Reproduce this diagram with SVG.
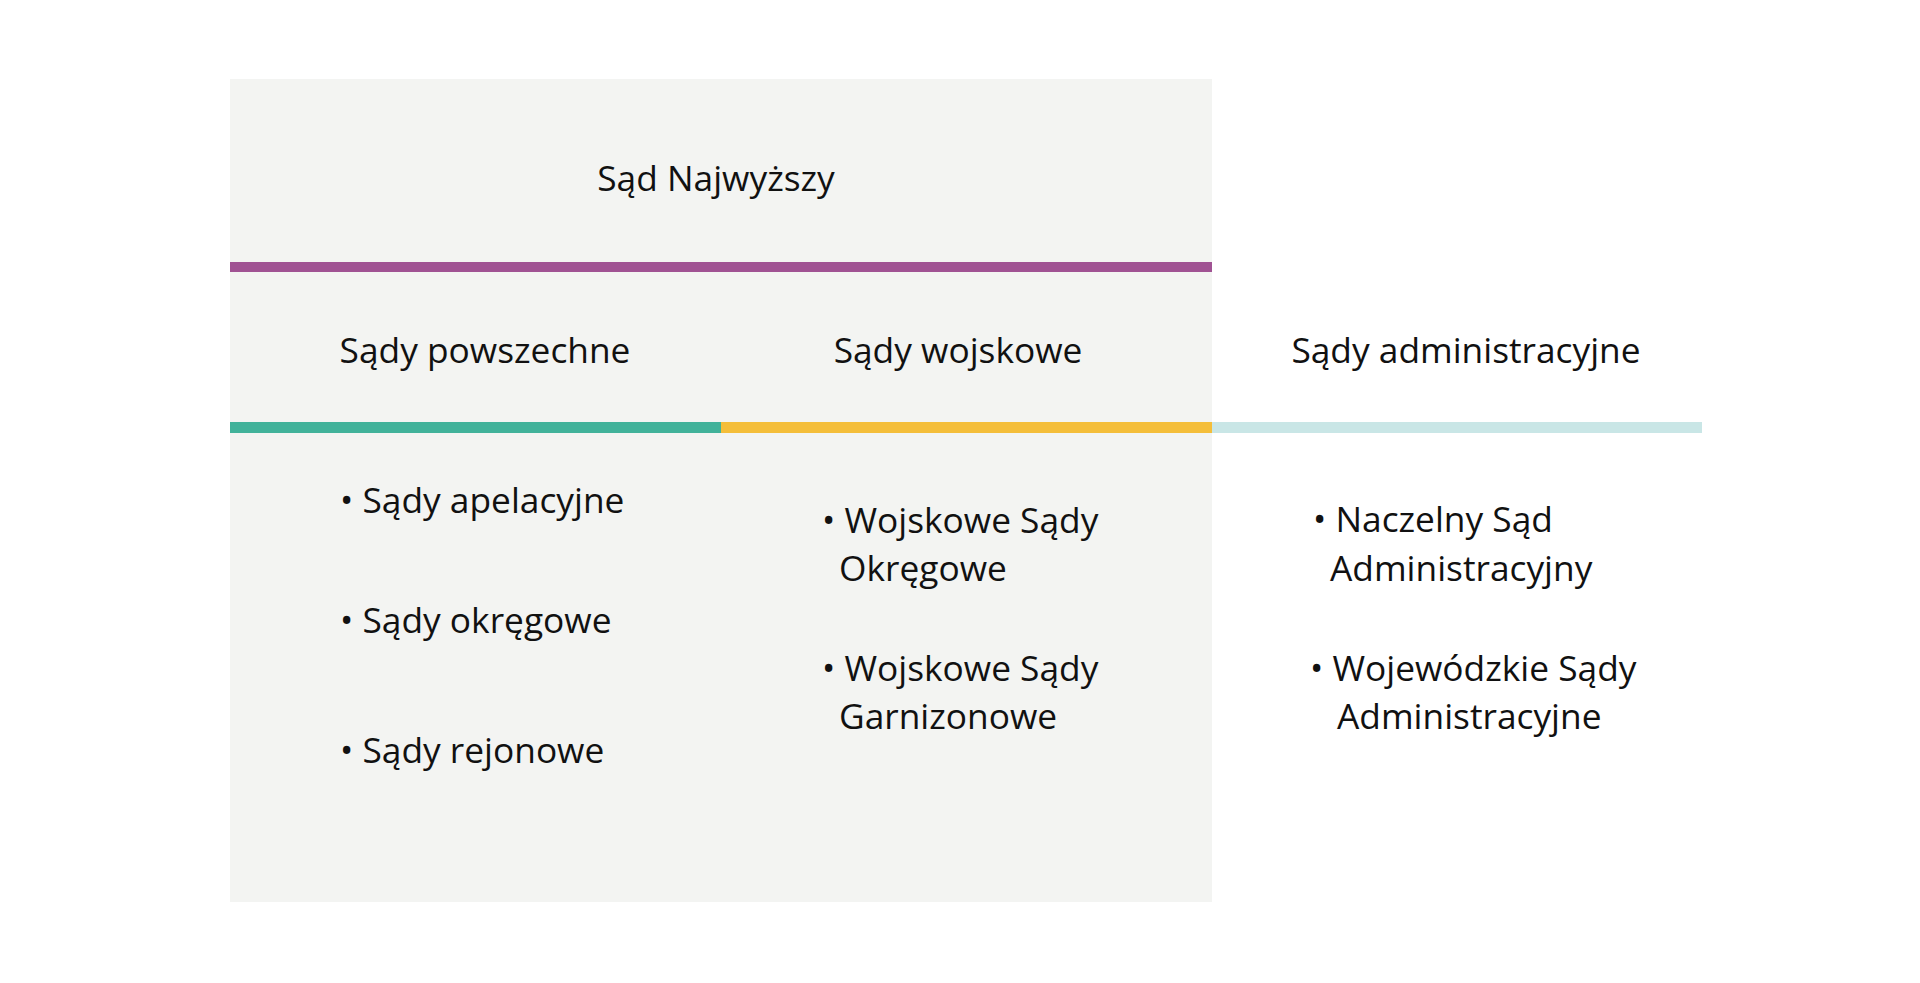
<svg xmlns="http://www.w3.org/2000/svg" width="1920" height="983" viewBox="0 0 1920 983">
<style>
text{font-family:"Open Sans","Noto Sans","Liberation Sans",sans-serif;font-size:35.3px;fill:#111111}
</style>
<rect x="0" y="0" width="1920" height="983" fill="#ffffff"/>
<g id="panel"><rect x="230" y="79" width="982" height="823" fill="#F3F4F2"/></g>
<g id="connectors">
<rect x="230" y="262" width="982" height="10" fill="#A05293"/>
<rect x="230" y="422" width="491" height="11" fill="#41B29A"/>
<rect x="721" y="422" width="491" height="11" fill="#F4BE3A"/>
<rect x="1212" y="422" width="490" height="11" fill="#C9E6E6"/>
</g>
<g id="sad-najwyzszy"><text x="716" y="191" text-anchor="middle">Sąd Najwyższy</text></g>
<g id="sady-powszechne">
<text x="485" y="363" text-anchor="middle">Sądy powszechne</text>
<text x="340" y="513">• Sądy apelacyjne</text>
<text x="340" y="633">• Sądy okręgowe</text>
<text x="340" y="763">• Sądy rejonowe</text>
</g>
<g id="sady-wojskowe">
<text x="958" y="363" text-anchor="middle">Sądy wojskowe</text>
<text x="822" y="533">• Wojskowe Sądy</text>
<text x="839" y="581">Okręgowe</text>
<text x="822" y="681">• Wojskowe Sądy</text>
<text x="839" y="729">Garnizonowe</text>
</g>
<g id="sady-administracyjne">
<text x="1466" y="363" text-anchor="middle">Sądy administracyjne</text>
<text x="1313" y="532">• Naczelny Sąd</text>
<text x="1330" y="581">Administracyjny</text>
<text x="1310" y="681">• Wojewódzkie Sądy</text>
<text x="1337" y="729">Administracyjne</text>
</g>
</svg>
